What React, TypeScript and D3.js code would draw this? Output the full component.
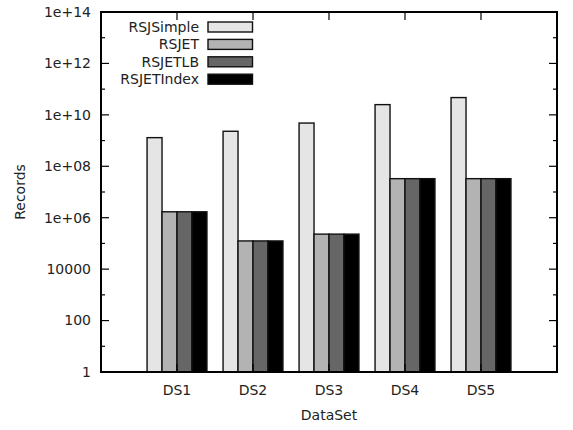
import React from "react";
import * as d3 from "d3";

const categories = ["DS1", "DS2", "DS3", "DS4", "DS5"];
const seriesNames = ["RSJSimple", "RSJET", "RSJETLB", "RSJETIndex"];
const rsjSimple = [1.3e9, 2.3e9, 4.8e9, 2.5e10, 4.7e10];
const rsjET = [1.7e6, 1.25e5, 2.3e5, 3.3e7, 3.3e7];
const rsjETLB = [1.7e6, 1.25e5, 2.3e5, 3.3e7, 3.3e7];
const rsjETIndex = [1.7e6, 1.25e5, 2.3e5, 3.3e7, 3.3e7];
const seriesValues = [rsjSimple, rsjET, rsjETLB, rsjETIndex];
const colors = ["#e5e5e5", "#b3b3b3", "#666666", "#000000"];
const yTicks = [1, 100, 10000, 1e6, 1e8, 1e10, 1e12, 1e14];
const yTickLabels = ["1", "100", "10000", "1e+06", "1e+08", "1e+10", "1e+12", "1e+14"];
const yMinorTicks = [10, 1e3, 1e5, 1e7, 1e9, 1e11, 1e13];

export default function App() {
  const W = 573, H = 430;
  const L = 101, R = 557, T = 12, B = 372;
  const x = d3.scaleLinear().domain([0, 6]).range([L, R]);
  const y = d3.scaleLog().domain([1, 1e14]).range([B, T]);
  const bw = (x(1) - x(0)) * 0.197;
  const font = "DejaVu Sans, sans-serif";
  const fs = 14;
  return (
    <svg width={W} height={H} style={{ position: "absolute", left: 0, top: 0 }}>
      <rect width={W} height={H} fill="#fff" />
      {categories.map((c, i) =>
        seriesValues.map((vals, s) => {
          const cx = x(i + 1);
          const x0 = cx - 2 * bw + s * bw;
          return (
            <rect
              key={c + s}
              x={x0}
              y={y(vals[i])}
              width={bw}
              height={B - y(vals[i])}
              fill={colors[s]}
              stroke="#111"
              strokeWidth={1.4}
            />
          );
        })
      )}
      {/* y ticks */}
      {yTicks.map((t, i) => (
        <g key={"yt" + i}>
          <line x1={L} x2={L + 8} y1={y(t)} y2={y(t)} stroke="#000" strokeWidth={1.2} />
          <line x1={R} x2={R - 8} y1={y(t)} y2={y(t)} stroke="#000" strokeWidth={1.2} />
          <text x={91} y={y(t)} dy="0.35em" textAnchor="end" fontFamily={font} fontSize={fs} fill="#222">
            {yTickLabels[i]}
          </text>
        </g>
      ))}
      {yMinorTicks.map((t, i) => (
        <g key={"ym" + i}>
          <line x1={L} x2={L + 4} y1={y(t)} y2={y(t)} stroke="#000" strokeWidth={1.2} />
          <line x1={R} x2={R - 4} y1={y(t)} y2={y(t)} stroke="#000" strokeWidth={1.2} />
        </g>
      ))}
      {/* x ticks */}
      {categories.map((c, i) => (
        <g key={"xt" + i}>
          <line x1={x(i + 1)} x2={x(i + 1)} y1={B} y2={B - 8} stroke="#000" strokeWidth={1.2} />
          <line x1={x(i + 1)} x2={x(i + 1)} y1={T} y2={T + 8} stroke="#000" strokeWidth={1.2} />
          <text x={x(i + 1)} y={390} dy="0.35em" textAnchor="middle" fontFamily={font} fontSize={fs} fill="#222">
            {c}
          </text>
        </g>
      ))}
      {/* legend */}
      {seriesNames.map((n, s) => {
        const ly = 27 + s * 17.4;
        return (
          <g key={"lg" + s}>
            <text x={199} y={ly} dy="0.35em" textAnchor="end" fontFamily={font} fontSize={fs} fill="#222">
              {n}
            </text>
            <rect x={208} y={ly - 5} width={44.5} height={10} fill={colors[s]} stroke="#111" strokeWidth={1.4} />
          </g>
        );
      })}
      <rect x={L} y={T} width={R - L} height={B - T} fill="none" stroke="#000" strokeWidth={2} />
      <text x={329} y={415} dy="0.35em" textAnchor="middle" fontFamily={font} fontSize={fs} fill="#222">
        DataSet
      </text>
      <text
        transform={`translate(20,${(T + B) / 2}) rotate(-90)`}
        dy="0.35em"
        textAnchor="middle"
        fontFamily={font}
        fontSize={fs}
        fill="#222"
      >
        Records
      </text>
    </svg>
  );
}
